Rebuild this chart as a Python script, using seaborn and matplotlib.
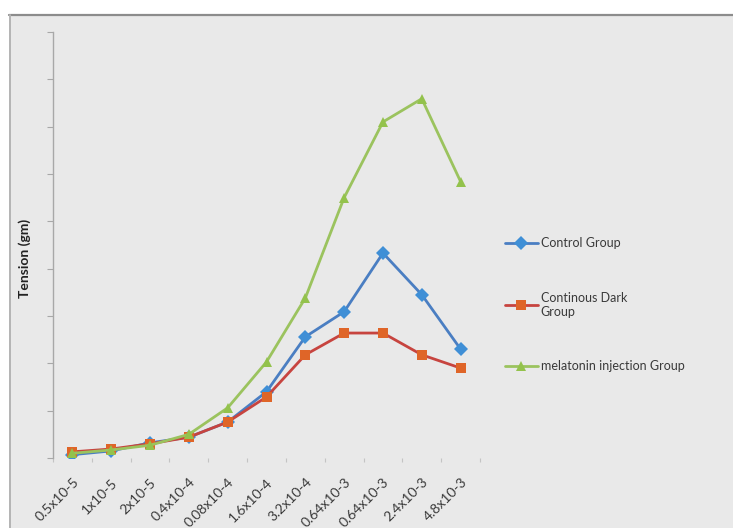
import matplotlib
matplotlib.use("Agg")
import matplotlib.pyplot as plt
from matplotlib.patches import Rectangle
import seaborn as sns
import pandas as pd
import numpy as np

# Concentrations and tension readings (gm) for each group
concentrations = ["0.5x10-5", "1x10-5", "2x10-5", "0.4x10-4", "0.08x10-4",
                  "1.6x10-4", "3.2x10-4", "0.64x10-3", "0.64x10-3",
                  "2.4x10-3", "4.8x10-3"]
control = [0.07, 0.15, 0.32, 0.44, 0.76, 1.40, 2.56, 3.09, 4.33, 3.45, 2.30]
dark = [0.13, 0.19, 0.30, 0.44, 0.76, 1.29, 2.18, 2.64, 2.64, 2.18, 1.90]
melatonin = [0.10, 0.17, 0.27, 0.50, 1.06, 2.03, 3.38, 5.50, 7.10, 7.59, 5.84]
group_names = ["Control Group", "Continous Dark\nGroup", "melatonin injection Group"]

sns.set_theme(style="white")
plt.rcParams["font.family"] = ["Lato", "DejaVu Sans"]

BG = "#e9e9e9"
fig = plt.figure(figsize=(7.33, 5.28), dpi=100, facecolor="white")

# Chart area panel with its border on top and left
fig.patches.append(Rectangle((9 / 733, 0), 1, 1 - 14 / 528, transform=fig.transFigure,
                             facecolor=BG, edgecolor="none", zorder=-10))
fig.add_artist(plt.Line2D([9 / 733, 1], [1 - 14.5 / 528, 1 - 14.5 / 528],
                          transform=fig.transFigure, color="#8c8c8c", lw=1.6, zorder=-5))
fig.add_artist(plt.Line2D([9.5 / 733, 9.5 / 733], [0, 1 - 14.5 / 528],
                          transform=fig.transFigure, color="#b4b4b4", lw=1.4, zorder=-5))

ax = fig.add_axes([53 / 733, 1 - 458 / 528, 427 / 733, 426 / 528])
ax.set_facecolor(BG)
ax.set_zorder(2)

n = len(concentrations)
frames = []
for name, vals in zip(group_names, [control, dark, melatonin]):
    frames.append(pd.DataFrame({"x": np.arange(n), "Tension": vals, "Group": name}))
df = pd.concat(frames, ignore_index=True)

palette = {group_names[0]: "#4a7ec2", group_names[1]: "#c7443f", group_names[2]: "#9bc35e"}
markers = {group_names[0]: "D", group_names[1]: "s", group_names[2]: "^"}
sns.lineplot(data=df, x="x", y="Tension", hue="Group", style="Group",
             palette=palette, markers=markers, dashes=False, lw=2.0,
             markersize=7, markeredgewidth=0, ax=ax, legend=False)

# marker tint per series
face = {group_names[0]: "#3f8fd6", group_names[1]: "#df6528", group_names[2]: "#93c24c"}
for line, name in zip(ax.get_lines(), group_names):
    line.set_markerfacecolor(face[name])
    line.set_markeredgecolor(face[name])

ax.set_xlim(-0.5, n - 0.5)
ax.set_ylim(0, 9)
ax.set_yticks(np.arange(0, 10))
ax.set_yticklabels([])
ax.tick_params(axis="y", left=True, length=4, width=0.8, color="#a8a8a8", direction="out")

ax.set_xticks(np.arange(n))
ax.set_xticklabels(concentrations, rotation=45, ha="right", rotation_mode="anchor",
                   fontsize=10, color="#3a3a3a")
ax.tick_params(axis="x", bottom=False, pad=7)
ax.set_xticks(np.arange(n + 1) - 0.5, minor=True)
ax.tick_params(axis="x", which="minor", bottom=True, length=3, width=0.8, color="#c4c4c4")
ax.set_xlabel("")
ax.set_ylabel("")

for side in ["top", "right", "bottom"]:
    ax.spines[side].set_visible(False)
ax.spines["left"].set_color("#a8a8a8")
ax.spines["left"].set_linewidth(1.0)

fig.text(25 / 733, 1 - 258 / 528, "Tension (gm)", rotation=90, ha="center", va="center",
         fontsize=10, fontweight="bold", color="#222222")

handles = ax.get_lines()[:3]
leg = fig.legend(handles, group_names, loc="upper left",
                 bbox_to_anchor=(500 / 733, 1 - 232 / 528), frameon=False,
                 fontsize=9, labelspacing=3.4, handlelength=2.6, handletextpad=0.25,
                 labelcolor="#3a3a3a", borderaxespad=0)

fig.savefig("out.png", dpi=100, facecolor="white")
